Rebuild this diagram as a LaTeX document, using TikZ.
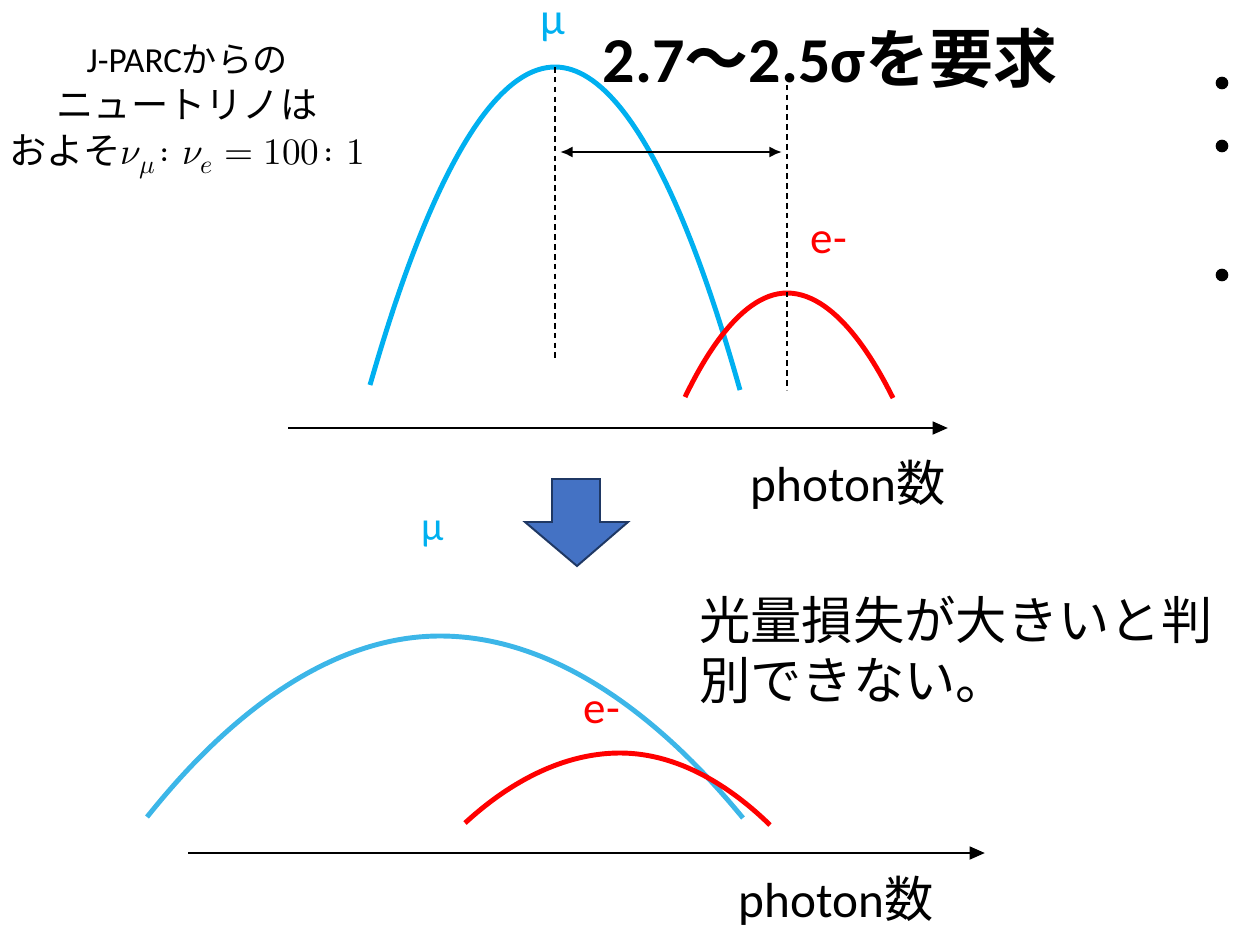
\documentclass[tikz,border=0pt]{standalone}
\usepackage{fontspec}
\usepackage{unicode-math}
\setmainfont{Carlito}
\setmathfont{Latin Modern Math}
\newfontfamily\jp{Noto Sans CJK JP}[BoldFont={* Bold}]
\definecolor{mucyan}{RGB}{0, 176, 240}
\definecolor{mulight}{RGB}{60, 182, 232}
\definecolor{ered}{RGB}{255, 0, 0}
\definecolor{arrowfill}{RGB}{68, 114, 196}
\definecolor{arrowedge}{RGB}{31, 56, 100}
\usetikzlibrary{arrows.meta, positioning}

\begin{document}
\begin{tikzpicture}[x=0.025cm, y=-0.025cm,
        every node/.style={inner sep=0pt, align=center},
        curve/.style={line width=3.5pt},
        guide/.style={line width=1pt, dash pattern=on 4pt off 3pt},
        axis/.style={-{Triangle[length=11pt, width=9pt]}, line width=2pt},
        span/.style={{Latex[length=9pt, width=8pt]}-{Latex[length=9pt, width=8pt]}, line width=2pt},
        bullet/.style={circle, fill=black, minimum size=9pt},
        lbl/.style={font=\fontsize{32}{36}\selectfont}
    ]
        \useasboundingbox (0,0) rectangle (1240,927);

        % upper spectrum
        \coordinate (mutop) at (555,67);
        \coordinate (mubot) at (555,358);
        \coordinate (etop) at (787,75);
        \coordinate (ebot) at (787,390);
        \coordinate (spanl) at (560,152);
        \coordinate (spanr) at (782,152);
        \coordinate (ax1s) at (288,428);
        \coordinate (ax1e) at (948,428);

        \draw[curve, mucyan] (370,385) parabola bend (555,67) (740,390);
        \draw[curve, ered] (685,397) parabola bend (787,293) (893,398);
        \draw[guide] (mutop) -- (mubot);
        \draw[guide] (etop) -- (ebot);
        \draw[span] (spanl) -- (spanr);
        \draw[axis] (ax1s) -- (ax1e);

        \node[lbl, text=mucyan, anchor=base] (mu1) at (553,34) {μ};
        \node[lbl, text=ered] (e1) at (829,243) {e-};
        \node[font=\fontsize{35}{40}\selectfont] (ph1) at (848,485) {photon{\jp 数}};
        \node[font=\fontsize{45.5}{50}\selectfont\bfseries] (req) at (830,58) {2.7{\jp 〜}2.5σ{\jp を要求}};

        \node[font=\fontsize{26.5}{32.6}\selectfont] (src) at (187,112)
            {{\fontsize{25}{32.6}\selectfont J-PARC{\jp からの}}\\
            {\jp ニュートリノは}\\
            {\jp およそ}$\nu_\mu\colon\nu_e = 100\colon 1$};

        \node[bullet] (b1) at (1222,83) {};
        \node[bullet] (b2) at (1222,146) {};
        \node[bullet] (b3) at (1222,275) {};

        % arrow down
        \draw[fill=arrowfill, draw=arrowedge, line width=1.4pt, line join=miter]
            (552,479) -- (600,479) -- (600,522) -- (628,522) -- (577,566) -- (525,522) -- (552,522) -- cycle;

        % lower spectrum
        \coordinate (ax2s) at (188,853);
        \coordinate (ax2e) at (985,853);

        \draw[curve, mulight] (147,817) parabola bend (440,636) (743,818);
        \draw[curve, ered] (465,823) parabola bend (620,753) (770,825);
        \draw[axis] (ax2s) -- (ax2e);

        \node[text=mucyan, font=\fontsize{29}{33}\selectfont, anchor=base] (mu2) at (433,540) {μ};
        \node[lbl, text=ered] (e2) at (602,713) {e-};
        \node[font=\fontsize{35}{40}\selectfont] (ph2) at (836,901) {photon{\jp 数}};

        \node[anchor=west, align=left, font=\fontsize{36.5}{42.5}\selectfont\jp] (note) at (699,650)
            {光量損失が大きいと判\\別できない。};
\end{tikzpicture}
\end{document}
